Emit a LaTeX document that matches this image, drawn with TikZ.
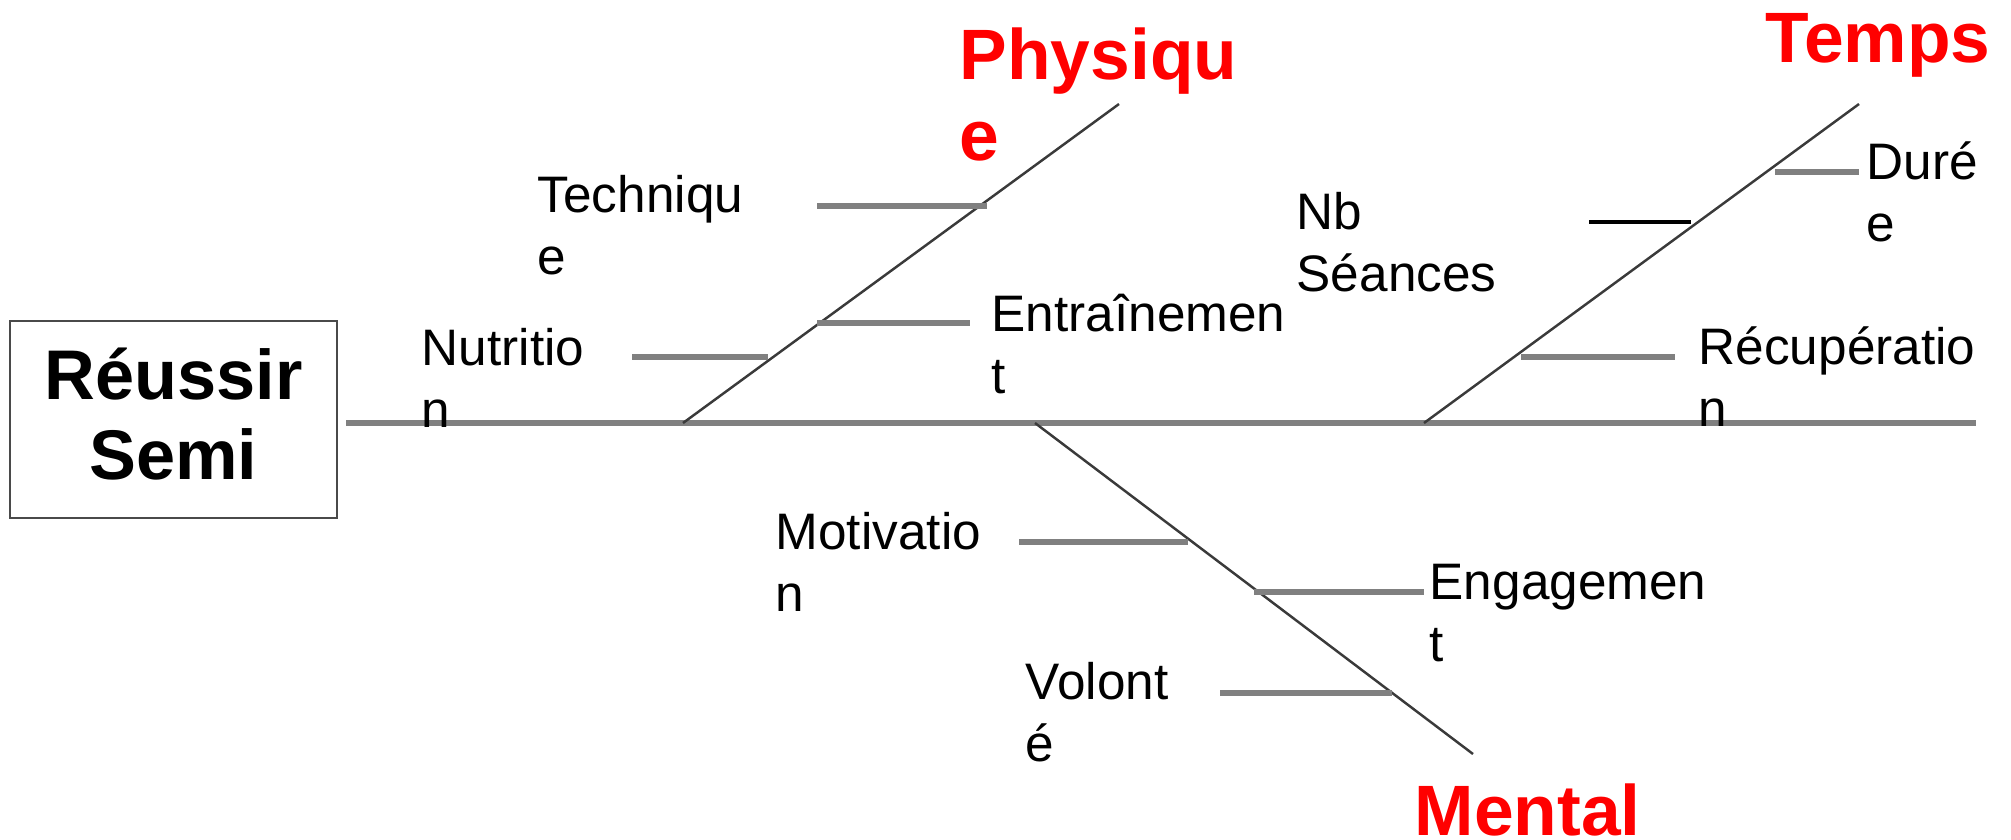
\documentclass[tikz,border=0pt]{standalone}
\usepackage{fontspec}
\setmainfont{Liberation Sans}
\usepackage{tikz}
\usetikzlibrary{positioning}
\definecolor{ink}{HTML}{000000}
\definecolor{catred}{HTML}{FF0000}
\definecolor{ribgray}{HTML}{808080}
\definecolor{bonegray}{HTML}{3A3A3A}
\definecolor{framegray}{HTML}{4A4A4A}
\tikzset{
  every node/.style={text=ink,inner sep=0pt},
  effect/.style={draw=framegray,line width=0.8pt,fill=white,align=center,minimum width=3.27cm,minimum height=1.97cm,font=\fontsize{20}{22.8}\selectfont\bfseries},
  cat/.style={anchor=base west,align=left,text=catred,font=\fontsize{20.3}{22.8}\selectfont\bfseries},
  cause/.style={anchor=base west,align=left,font=\fontsize{14.6}{17.4}\selectfont},
  spine/.style={draw=ribgray,line width=1.6pt},
  bone/.style={draw=bonegray,line width=0.7pt},
  rib/.style={draw=ribgray,line width=1.5pt},
  darkrib/.style={draw=ink,line width=1.1pt}
}

\begin{document}
\begin{tikzpicture}[x=0.1mm,y=-0.1mm]
  \useasboundingbox (0,0) rectangle (2011,839);

  % effect box and spine
  \node[effect] (effect) at (173.5,419.5) {Réussir\\Semi\rule[-3.4pt]{0pt}{3.4pt}};
  \coordinate (head) at (346,423);
  \coordinate (tail) at (1976,423);
  \draw[spine] (head) -- (tail);

  % main bones
  \coordinate (phy0) at (683,423);
  \coordinate (phy1) at (1119,104);
  \coordinate (tmp0) at (1424,423);
  \coordinate (tmp1) at (1859,104);
  \coordinate (men0) at (1035,423);
  \coordinate (men1) at (1473,754);
  \draw[bone] (phy0) -- (phy1);
  \draw[bone] (tmp0) -- (tmp1);
  \draw[bone] (men0) -- (men1);

  % base anchor sits on the last line
  \node[cat] (physique) at (959,160) {Physiqu\\e};
  \node[cat] (temps) at (1765,62) {Temps};
  \node[cat] (mental) at (1414,835) {Mental};

  % Physique causes
  \node[cause] (technique) at (537,274) {Techniqu\\e};
  \node[cause] (nutrition) at (421,427) {Nutritio\\n};
  \node[cause] (entrainement) at (991,393) {Entraînemen\\t};
  \coordinate (tech0) at (817,206);
  \coordinate (tech1) at (987,206);
  \coordinate (nutr0) at (632,357);
  \coordinate (nutr1) at (768,357);
  \coordinate (entr0) at (817,323);
  \coordinate (entr1) at (970,323);
  \draw[rib] (tech0) -- (tech1);
  \draw[rib] (nutr0) -- (nutr1);
  \draw[rib] (entr0) -- (entr1);

  % Temps causes
  \node[cause] (seances) at (1296,291) {Nb\\Séances};
  \node[cause] (duree) at (1866,241) {Duré\\e};
  \node[cause] (recup) at (1698,426) {Récupératio\\n};
  \coordinate (sean0) at (1589,222);
  \coordinate (sean1) at (1691,222);
  \coordinate (dure0) at (1775,172);
  \coordinate (dure1) at (1859,172);
  \coordinate (recu0) at (1521,357);
  \coordinate (recu1) at (1675,357);
  \draw[darkrib] (sean0) -- (sean1);
  \draw[rib] (dure0) -- (dure1);
  \draw[rib] (recu0) -- (recu1);

  % Mental causes
  \node[cause] (motivation) at (775,611) {Motivatio\\n};
  \node[cause] (engagement) at (1429,661) {Engagemen\\t};
  \node[cause] (volonte) at (1025,761) {Volont\\é};
  \coordinate (moti0) at (1019,542);
  \coordinate (moti1) at (1188,542);
  \coordinate (enga0) at (1254,592);
  \coordinate (enga1) at (1424,592);
  \coordinate (volo0) at (1220,693);
  \coordinate (volo1) at (1392,693);
  \draw[rib] (moti0) -- (moti1);
  \draw[rib] (enga0) -- (enga1);
  \draw[rib] (volo0) -- (volo1);
\end{tikzpicture}
\end{document}
